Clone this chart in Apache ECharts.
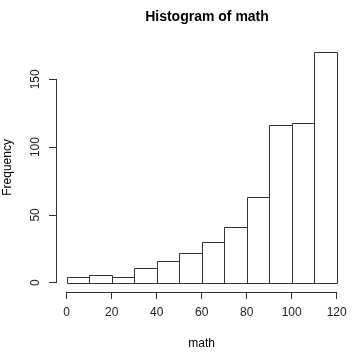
<!DOCTYPE html>
<html>
<head>
<meta charset="utf-8">
<script src="https://cdn.jsdelivr.net/npm/echarts@6/dist/echarts.min.js"></script>
<style>html,body{margin:0;padding:0;background:#fff}#c{width:355px;height:359px}</style>
</head>
<body>
<div id="c"></div>
<script>
// Histogram bins (lower/upper break) and counts
var binStart = [0, 10, 20, 30, 40, 50, 60, 70, 80, 90, 100, 110];
var binEnd   = [10, 20, 30, 40, 50, 60, 70, 80, 90, 100, 110, 120];
var counts   = [4, 6, 4, 11, 16, 22, 30, 41, 63, 116, 118, 170];
var xTicks = [0, 20, 40, 60, 80, 100, 120];
var yTicks = [0, 50, 100, 150];

var FONT = 'Liberation Sans, Arial, sans-serif';
var data = binStart.map(function (s, i) { return [s, binEnd[i], counts[i]]; });
var maxC = Math.max.apply(null, counts);

var chart = echarts.init(document.getElementById('c'), null, {renderer: 'canvas'});
chart.setOption({
  animation: false,
  backgroundColor: '#fff',
  title: {
    text: 'Histogram of math',
    left: 202, top: 5, textAlign: 'center',
    textStyle: {fontFamily: FONT, fontSize: 14, fontWeight: 'bold', color: '#000'}
  },
  grid: [
    {left: 56, top: 43, width: 291.6, height: 248.9, containLabel: false, outerBoundsMode: 'none'},
    {left: 66.7, top: 43, width: 270, height: 248.9, containLabel: false, outerBoundsMode: 'none'},
    {left: 56, top: 79.3, width: 291.6, height: 203.4, containLabel: false, outerBoundsMode: 'none'}
  ],
  xAxis: [
    {gridIndex: 0, type: 'value', min: -4.8, max: 124.8, show: false},
    {gridIndex: 1, type: 'value', min: xTicks[0], max: xTicks[xTicks.length - 1], interval: 20,
     name: 'math', nameLocation: 'middle', nameGap: 46,
     nameTextStyle: {fontFamily: FONT, fontSize: 12, color: '#000'},
     axisLine: {show: true, lineStyle: {color: '#333', width: 1}},
     axisTick: {show: true, length: 7, lineStyle: {color: '#333'}},
     axisLabel: {margin: 15, fontFamily: FONT, fontSize: 12, color: '#222', showMinLabel: true, showMaxLabel: true},
     splitLine: {show: false}},
    {gridIndex: 2, type: 'value', show: false}
  ],
  yAxis: [
    {gridIndex: 0, type: 'value', min: -0.04 * maxC, max: maxC * 1.04,
     name: 'Frequency', nameLocation: 'middle', nameGap: 42, nameRotate: 90,
     nameTextStyle: {fontFamily: FONT, fontSize: 12, color: '#000'},
     axisLine: {show: false}, axisTick: {show: false}, axisLabel: {show: false}, splitLine: {show: false}},
    {gridIndex: 1, type: 'value', show: false},
    {gridIndex: 2, type: 'value', min: yTicks[0], max: yTicks[yTicks.length - 1], interval: 50,
     axisLine: {show: true, lineStyle: {color: '#333', width: 1}},
     axisTick: {show: true, length: 7, lineStyle: {color: '#333'}},
     axisLabel: {rotate: 90, margin: 14, fontFamily: FONT, fontSize: 12, color: '#222'},
     splitLine: {show: false}}
  ],
  series: [{
    type: 'custom',
    xAxisIndex: 0, yAxisIndex: 0,
    data: data,
    renderItem: function (params, api) {
      var p0 = api.coord([api.value(0), api.value(2)]);
      var p1 = api.coord([api.value(1), 0]);
      return {
        type: 'rect',
        shape: {x: Math.round(p0[0]) + 0.5, y: Math.round(p0[1]) + 0.5,
                width: Math.round(p1[0]) - Math.round(p0[0]), height: Math.round(p1[1]) - Math.round(p0[1])},
        style: {fill: '#fff', stroke: '#333', lineWidth: 1}
      };
    }
  }]
});
</script>
</body>
</html>
